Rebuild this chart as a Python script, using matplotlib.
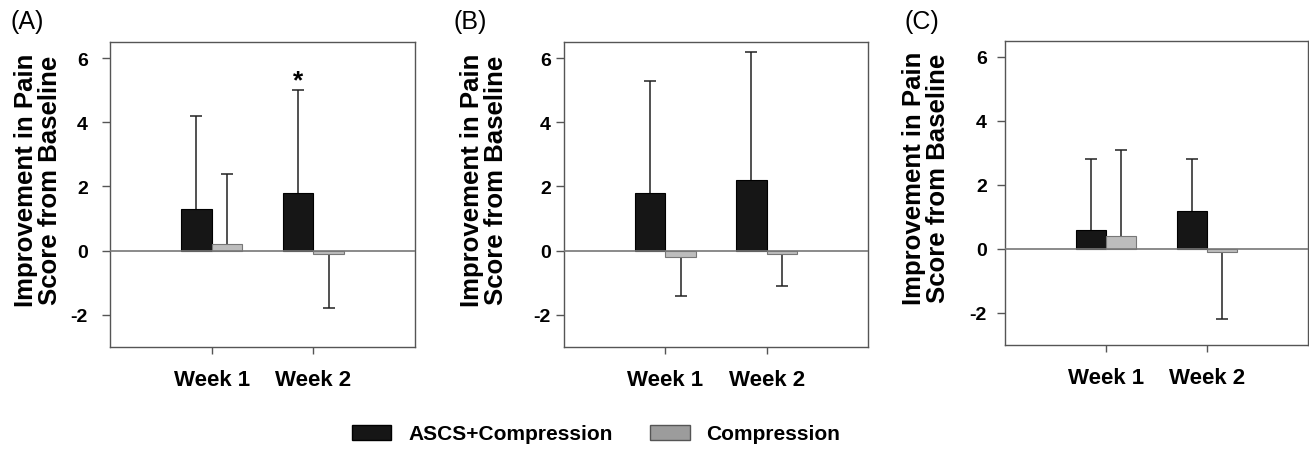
import matplotlib
matplotlib.use("Agg")
import matplotlib.pyplot as plt
from matplotlib.patches import Patch

plt.rcParams['font.family'] = ['Liberation Sans', 'DejaVu Sans']

weeks = ["Week 1", "Week 2"]
panels = ["(A)", "(B)", "(C)"]

# mean improvement and one-sided SD for each panel
ascs_mean = [[1.3, 1.8], [1.8, 2.2], [0.6, 1.2]]
ascs_sd = [[2.9, 3.2], [3.5, 4.0], [2.2, 1.6]]
comp_mean = [[0.2, -0.1], [-0.2, -0.1], [0.4, -0.1]]
comp_sd = [[2.2, 1.7], [1.2, 1.0], [2.7, 2.1]]
star_panel = 0
star_week = 1

BLACK = "#161616"
GRAY = "#bdbdbd"
SPINE = "#555555"

fig = plt.figure(figsize=(13.09, 4.52), dpi=100)

ax_rects = [
    [110 / 1309, 1 - 348 / 452, 305 / 1309, 305 / 452],
    [564 / 1309, 1 - 348 / 452, 304 / 1309, 305 / 452],
    [1005 / 1309, 1 - 346 / 452, 303 / 1309, 304 / 452],
]
label_x = [-0.157, -0.184, -0.181]
tick_pads = [10, 3.6, 7]
panel_pos = [10, 453, 905]


def draw_err(ax, xs, means, sds):
    # one-sided bars: up for positive means, down for negative
    tips = [m + sd if m >= 0 else m - sd for m, sd in zip(means, sds)]
    ax.vlines(xs, means, tips, color="#222222", linewidth=1.1, zorder=2)
    ax.plot(xs, tips, linestyle="none", marker="_", markersize=8,
            markeredgewidth=1.1, color="#222222", zorder=2)


for i, rect in enumerate(ax_rects):
    ax = fig.add_axes(rect)
    x = [1, 2]
    w = 0.3
    xa = [v - w / 2 for v in x]
    xc = [v + w / 2 for v in x]
    ax.bar(xa, ascs_mean[i], width=w, color=BLACK, edgecolor="black", linewidth=0.8, zorder=3)
    ax.bar(xc, comp_mean[i], width=w, color=GRAY, edgecolor="#777777", linewidth=0.8, zorder=3)
    draw_err(ax, xa, ascs_mean[i], ascs_sd[i])
    draw_err(ax, xc, comp_mean[i], comp_sd[i])
    ax.axhline(0, color="#777777", linewidth=1.2, zorder=4)

    if i == star_panel:
        top = ascs_mean[i][star_week] + ascs_sd[i][star_week]
        ax.text(xa[star_week], top + 0.3, "*", ha="center", va="center",
                fontsize=19, fontweight="bold")

    ax.set_xlim(0, 3)
    ax.set_ylim(-3, 6.5)
    ax.set_xticks(x)
    ax.set_xticklabels(weeks, fontsize=16, fontweight="bold")
    ax.set_yticks([-2, 0, 2, 4, 6])
    ax.set_yticklabels(["-2", "0", "2", "4", "6"], fontsize=14, fontweight="bold")
    ax.tick_params(axis="y", length=6, width=1, color=SPINE, pad=tick_pads[i])
    ax.tick_params(axis="x", length=5, width=1, color=SPINE, pad=11)
    for s in ax.spines.values():
        s.set_color(SPINE)
        s.set_linewidth(1)

    ax.set_ylabel("Improvement in Pain\nScore from Baseline", fontsize=18.5,
                  fontweight="bold", linespacing=1.0)
    ax.yaxis.set_label_coords(label_x[i], 0.55)

    fig.text(panel_pos[i] / 1309, 1 - 22 / 452, panels[i], fontsize=18,
             ha="left", va="center")

handles = [Patch(facecolor=BLACK, edgecolor="black", linewidth=1),
           Patch(facecolor="#9c9c9c", edgecolor="#555555", linewidth=1)]
fig.legend(handles, ["ASCS+Compression", "Compression"], loc="center",
           bbox_to_anchor=(596 / 1309, 1 - 435 / 452), ncol=2, frameon=False,
           prop={"size": 15, "weight": "bold"}, handlelength=1.9, handleheight=0.7,
           handletextpad=0.8, columnspacing=1.8, borderpad=0)

fig.savefig("out.png", dpi=100)
